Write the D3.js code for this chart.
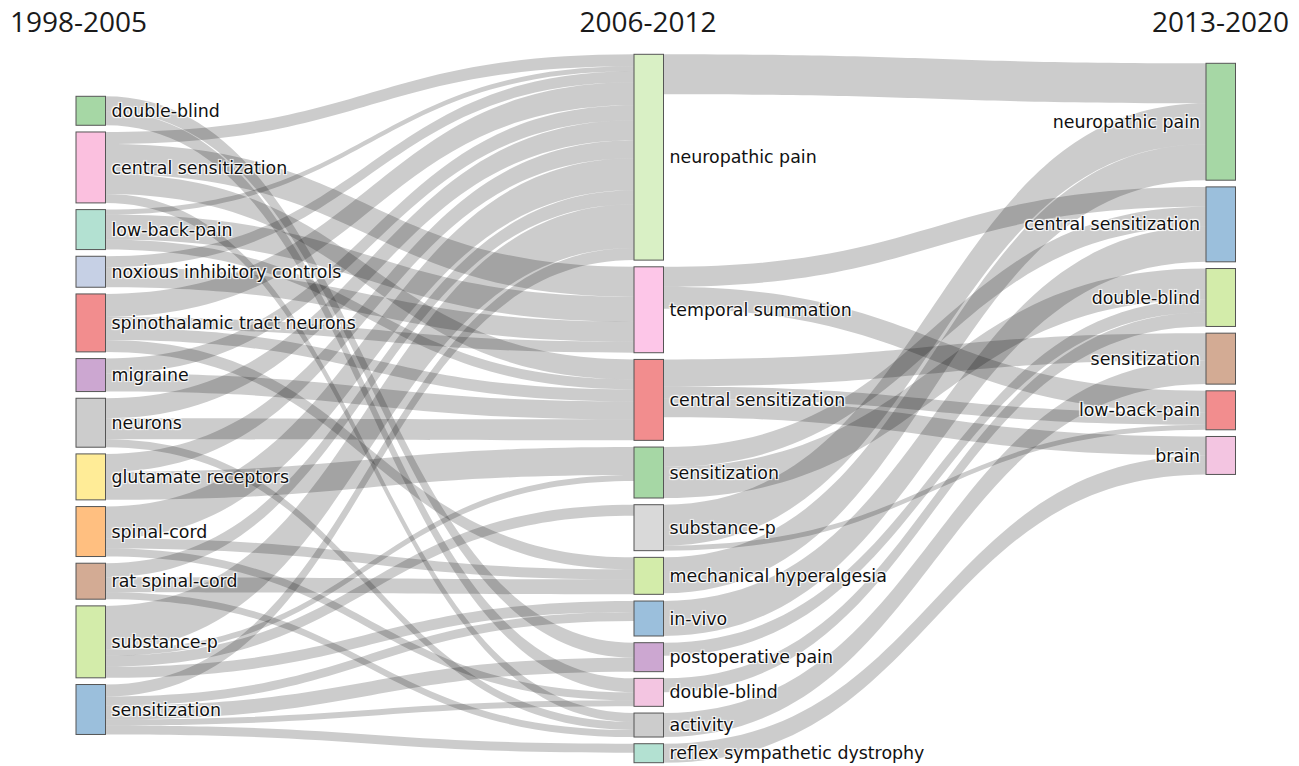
<!DOCTYPE html>
<html><head><meta charset="utf-8">
<script src="https://cdn.jsdelivr.net/npm/d3@7"></script>
<style>
body{margin:0;background:#fff;}
.lbl{font-family:"DejaVu Sans",Verdana,sans-serif;font-size:17.4px;fill:#111;
 text-shadow:1px 1px 1px #fff,-1px -1px 1px #fff,1px -1px 1px #fff,-1px 1px 1px #fff;}
.ttl{font-family:"Open Sans",sans-serif;font-size:28px;fill:#1a1a1a;}
</style></head><body>
<svg id="c" width="1299" height="766"></svg>
<script>
// ---------------- data ----------------
const periods = ["1998-2005", "2006-2012", "2013-2020"];

const nodes1998 = ["double-blind","central sensitization","low-back-pain","noxious inhibitory controls",
  "spinothalamic tract neurons","migraine","neurons","glutamate receptors","spinal-cord",
  "rat spinal-cord","substance-p","sensitization"];
const colors1998 = ["#4daf4a","#f781bf","#66c2a5","#8da0cb","#e41a1c","#984ea3","#999999",
  "#ffd92f","#ff7f00","#a65628","#a6d854","#377eb8"];

const nodes2006 = ["neuropathic pain","temporal summation","central sensitization","sensitization",
  "substance-p","mechanical hyperalgesia","in-vivo","postoperative pain","double-blind","activity",
  "reflex sympathetic dystrophy"];
const colors2006 = ["#b3e08a","#fb8dd0","#e41a1c","#4daf4a","#b3b3b3","#a6d854","#377eb8",
  "#984ea3","#e78ac3","#999999","#66c2a5"];

const nodes2013 = ["neuropathic pain","central sensitization","double-blind","sensitization",
  "low-back-pain","brain"];
const colors2013 = ["#4daf4a","#377eb8","#a6d854","#a65628","#e41a1c","#e78ac3"];

// flows 1998-2005 -> 2006-2012 : [source, target, value]
const flowsEarly = [
  ["double-blind","postoperative pain",15],
  ["double-blind","double-blind",14],
  ["central sensitization","neuropathic pain",12],
  ["central sensitization","temporal summation",30],
  ["central sensitization","central sensitization",20],
  ["central sensitization","activity",9],
  ["low-back-pain","neuropathic pain",5],
  ["low-back-pain","temporal summation",25],
  ["low-back-pain","central sensitization",10],
  ["noxious inhibitory controls","neuropathic pain",11],
  ["noxious inhibitory controls","temporal summation",20],
  ["spinothalamic tract neurons","neuropathic pain",23],
  ["spinothalamic tract neurons","temporal summation",11],
  ["spinothalamic tract neurons","central sensitization",12],
  ["spinothalamic tract neurons","mechanical hyperalgesia",12],
  ["migraine","neuropathic pain",15],
  ["migraine","central sensitization",18],
  ["neurons","neuropathic pain",20],
  ["neurons","central sensitization",21],
  ["neurons","activity",8],
  ["glutamate receptors","neuropathic pain",18],
  ["glutamate receptors","sensitization",28],
  ["spinal-cord","neuropathic pain",32],
  ["spinal-cord","mechanical hyperalgesia",10],
  ["spinal-cord","double-blind",8],
  ["rat spinal-cord","neuropathic pain",14],
  ["rat spinal-cord","mechanical hyperalgesia",15],
  ["rat spinal-cord","activity",7],
  ["substance-p","neuropathic pain",44],
  ["substance-p","sensitization",6],
  ["substance-p","substance-p",11],
  ["substance-p","in-vivo",11],
  ["sensitization","neuropathic pain",12],
  ["sensitization","in-vivo",9],
  ["sensitization","postoperative pain",14],
  ["sensitization","double-blind",6],
  ["sensitization","reflex sympathetic dystrophy",9]
];

// flows 2006-2012 -> 2013-2020
const flowsLate = [
  ["neuropathic pain","neuropathic pain",40],
  ["temporal summation","central sensitization",20],
  ["temporal summation","low-back-pain",22],
  ["central sensitization","sensitization",27],
  ["central sensitization","low-back-pain",12],
  ["central sensitization","brain",19],
  ["sensitization","central sensitization",20],
  ["sensitization","double-blind",31],
  ["substance-p","neuropathic pain",41],
  ["substance-p","low-back-pain",5],
  ["mechanical hyperalgesia","neuropathic pain",36],
  ["in-vivo","central sensitization",35],
  ["postoperative pain","double-blind",13],
  ["double-blind","double-blind",14],
  ["activity","sensitization",24],
  ["reflex sympathetic dystrophy","brain",19]
];

// ---------------- layout ----------------
const W = 1299, H = 766;
const nodeWidth = 29.5, nodePad = 6.7;
const extent = [54.3, 762.7];
const columnShift = [42, 0, 9];
const xCol = d3.scaleLinear().domain([0, 1, 2]).range([76, 634, 1206]);
const tint = c => d3.interpolateRgb("#ffffff", c)(0.5);

const columns = [[nodes1998, colors1998], [nodes2006, colors2006], [nodes2013, colors2013]]
  .map(([names, cols], c) => names.map((name, i) => ({name, col: c, index: i, color: tint(cols[i]), inL: [], outL: []})));

const links = [];
[[flowsEarly, 0], [flowsLate, 1]].forEach(([flows, c]) => {
  flows.forEach(([s, t, v]) => {
    const src = columns[c].find(n => n.name === s);
    const tgt = columns[c + 1].find(n => n.name === t);
    const l = {s: src, t: tgt, v};
    src.outL.push(l); tgt.inL.push(l); links.push(l);
  });
});
columns.flat().forEach(n => n.value = Math.max(d3.sum(n.inL, l => l.v), d3.sum(n.outL, l => l.v)));

const ky = d3.min(columns, col => (extent[1] - extent[0] - (col.length - 1) * nodePad) / d3.sum(col, n => n.value));
const yVal = d3.scaleLinear().domain([0, 1]).range([0, ky]);

columns.forEach((col, c) => {
  let y = extent[0] + columnShift[c];
  col.forEach(n => {
    n.x0 = xCol(c); n.x1 = n.x0 + nodeWidth;
    n.y0 = y; n.y1 = y + yVal(n.value);
    y = n.y1 + nodePad;
  });
});
columns.flat().forEach(n => {
  n.outL.sort((a, b) => a.t.y0 - b.t.y0 || a.t.index - b.t.index);
  n.inL.sort((a, b) => a.s.y0 - b.s.y0 || a.s.index - b.s.index);
  let y = n.y0;
  n.outL.forEach(l => { l.sy0 = y; y += yVal(l.v); l.sy1 = y; });
  y = n.y0;
  n.inL.forEach(l => { l.ty0 = y; y += yVal(l.v); l.ty1 = y; });
});

// ---------------- draw ----------------
const svg = d3.select("#c");

function band(l) {
  const x0 = l.s.x1, x1 = l.t.x0, xm = d3.interpolateNumber(x0, x1)(0.5);
  return `M${x0},${l.sy0}C${xm},${l.sy0} ${xm},${l.ty0} ${x1},${l.ty0}` +
         `L${x1},${l.ty1}C${xm},${l.ty1} ${xm},${l.sy1} ${x0},${l.sy1}Z`;
}

svg.append("g").selectAll("path").data(links).join("path")
  .attr("d", band).attr("fill", "rgba(0,0,0,0.2)");

const nodeG = svg.append("g").selectAll("g").data(columns.flat()).join("g");
nodeG.append("rect")
  .attr("x", d => d.x0).attr("y", d => d.y0)
  .attr("width", d => d.x1 - d.x0).attr("height", d => d.y1 - d.y0)
  .attr("fill", d => d.color).attr("stroke", "#555").attr("stroke-width", 1);
nodeG.append("text").attr("class", "lbl")
  .attr("x", d => d.col === 2 ? d.x0 - 6 : d.x1 + 6)
  .attr("y", d => (d.y0 + d.y1) / 2)
  .attr("dy", "0.35em")
  .attr("text-anchor", d => d.col === 2 ? "end" : "start")
  .text(d => d.name);

svg.append("g").selectAll("text").data(periods).join("text").attr("class", "ttl")
  .attr("x", (d, i) => [10, 648, 1289][i])
  .attr("y", 32)
  .attr("text-anchor", (d, i) => ["start", "middle", "end"][i])
  .text(d => d);
</script>
</body></html>
